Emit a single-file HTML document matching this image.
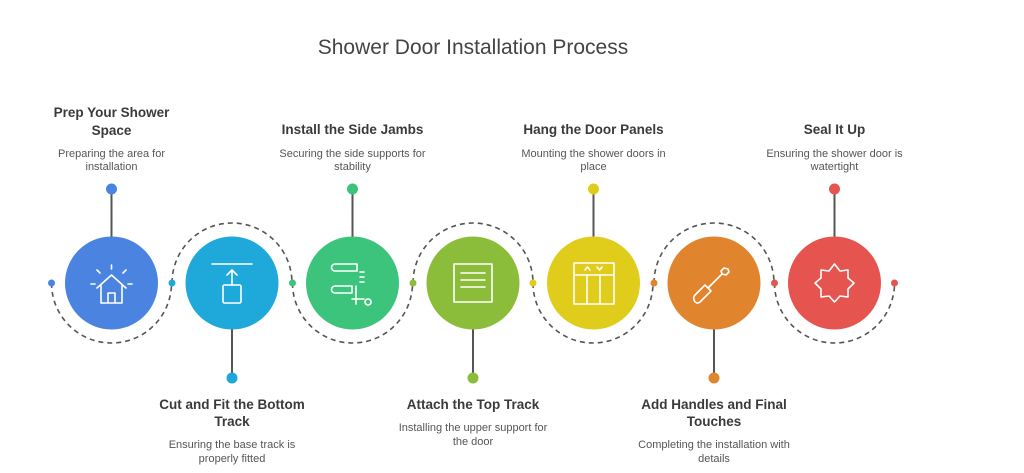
<!DOCTYPE html>
<html><head><meta charset="utf-8"><style>
html,body{margin:0;padding:0;background:#fff;}
svg{display:block;font-family:"Liberation Sans",sans-serif;}
.t{font-weight:bold;font-size:13.5px;fill:#3a3a3a;text-anchor:middle;}
.d{font-size:11px;fill:#555;text-anchor:middle;}
.ic{fill:none;stroke:#fff;stroke-width:1.6;stroke-linecap:round;stroke-linejoin:round;}
</style></head><body>
<svg width="1024" height="473" viewBox="0 0 1024 473">
<text x="473" y="54" font-size="21" fill="#444" text-anchor="middle">Shower Door Installation Process</text>

<g fill="none" stroke="#555" stroke-width="1.6" stroke-dasharray="5,4">
<path d="M51.5,283 A60,60 0 0 0 171.5,283"/>
<path d="M172,283 A60,60 0 0 1 292,283"/>
<path d="M292.5,283 A60,60 0 0 0 412.5,283"/>
<path d="M413,283 A60,60 0 0 1 533,283"/>
<path d="M533,283 A60,60 0 0 0 653,283"/>
<path d="M654,283 A60,60 0 0 1 774,283"/>
<path d="M774.5,283 A60,60 0 0 0 894.5,283"/>
</g>

<g stroke="#555" stroke-width="2">
<line x1="111.5" y1="189" x2="111.5" y2="240"/>
<line x1="232" y1="326" x2="232" y2="378"/>
<line x1="352.5" y1="189" x2="352.5" y2="240"/>
<line x1="473" y1="326" x2="473" y2="378"/>
<line x1="593.5" y1="189" x2="593.5" y2="240"/>
<line x1="714" y1="326" x2="714" y2="378"/>
<line x1="834.5" y1="189" x2="834.5" y2="240"/>
</g>

<circle cx="51.5" cy="283" r="3.5" fill="#4a84e0"/>
<circle cx="172" cy="283" r="3.5" fill="#1fa8da"/>
<circle cx="292.5" cy="283" r="3.5" fill="#3cc47c"/>
<circle cx="413" cy="283" r="3.5" fill="#8cbd3a"/>
<circle cx="533" cy="283" r="3.5" fill="#e0cc1a"/>
<circle cx="654" cy="283" r="3.5" fill="#e0842e"/>
<circle cx="774.5" cy="283" r="3.5" fill="#e5544f"/>
<circle cx="894.5" cy="283" r="3.5" fill="#e5544f"/>

<circle cx="111.5" cy="189" r="5.5" fill="#4a84e0"/>
<circle cx="232" cy="378" r="5.5" fill="#1fa8da"/>
<circle cx="352.5" cy="189" r="5.5" fill="#3cc47c"/>
<circle cx="473" cy="378" r="5.5" fill="#8cbd3a"/>
<circle cx="593.5" cy="189" r="5.5" fill="#e0cc1a"/>
<circle cx="714" cy="378" r="5.5" fill="#e0842e"/>
<circle cx="834.5" cy="189" r="5.5" fill="#e5544f"/>

<circle cx="111.5" cy="283" r="46.5" fill="#4a84e0"/>
<circle cx="232" cy="283" r="46.5" fill="#1fa8da"/>
<circle cx="352.5" cy="283" r="46.5" fill="#3cc47c"/>
<circle cx="473" cy="283" r="46.5" fill="#8cbd3a"/>
<circle cx="593.5" cy="283" r="46.5" fill="#e0cc1a"/>
<circle cx="714" cy="283" r="46.5" fill="#e0842e"/>
<circle cx="834.5" cy="283" r="46.5" fill="#e5544f"/>

<g class="ic">
<path d="M97,288 L111.5,275 L126,288 M101,285 V303 H122 V285 M108,303 V293 H115 V303"/>
<path d="M111.5,265 V269 M97,270 L100,273 M126,270 L123,273 M91,284 H95 M128,284 H132"/>
<path d="M212,264 H252 M232,270 V285 M227,275 L232,270 L237,275"/>
<rect x="223" y="285" width="18" height="18" rx="1.5"/>
<path d="M335,264 H357 V271 H335 A3.5,3.5 0 0 1 335,264 M335,286 H352 V293 H335 A3.5,3.5 0 0 1 335,286 M360,272 H364 M360,277 H364 M360,282 H364 M356,286 V304 M352,299 H364 M368,299 A3,3 0 1 0 368.1,299"/>
<rect x="454" y="264" width="38" height="38"/>
<path d="M461,273 H485 M461,280 H485 M461,287 H485"/>
<rect x="574" y="263" width="40" height="41"/>
<path d="M574,275 H614 M587,275 V304 M600,275 V304 M585,270 L587.5,267 L590,270 M597,267 L599.5,270 L602,267"/>
<path d="M697,303 A5,5 0 0 1 695,295 L705,285 L711,291 L701,301 A5,5 0 0 1 697,303 Z M708,288 L722,274 M721,271 L724,268 L728,269 L729,272 L726,275 L722,274 Z"/>
<path d="M834.5,264 L840,271 L848,270 L848,278 L854,283 L848,289 L848,297 L840,296 L834.5,302 L829,296 L821,297 L821,289 L815,283 L821,278 L821,270 L829,271 Z"/>
</g>

<text class="t" x="111.5" y="117">Prep Your Shower</text>
<text class="t" x="111.5" y="135">Space</text>
<text class="d" x="111.5" y="157">Preparing the area for</text>
<text class="d" x="111.5" y="170">installation</text>

<text class="t" x="352.5" y="134">Install the Side Jambs</text>
<text class="d" x="352.5" y="157">Securing the side supports for</text>
<text class="d" x="352.5" y="170">stability</text>

<text class="t" x="593.5" y="134">Hang the Door Panels</text>
<text class="d" x="593.5" y="157">Mounting the shower doors in</text>
<text class="d" x="593.5" y="170">place</text>

<text class="t" x="834.5" y="134">Seal It Up</text>
<text class="d" x="834.5" y="157">Ensuring the shower door is</text>
<text class="d" x="834.5" y="170">watertight</text>

<text class="t" x="232" y="409">Cut and Fit the Bottom</text>
<text class="t" x="232" y="426">Track</text>
<text class="d" x="232" y="448">Ensuring the base track is</text>
<text class="d" x="232" y="462">properly fitted</text>

<text class="t" x="473" y="409">Attach the Top Track</text>
<text class="d" x="473" y="431">Installing the upper support for</text>
<text class="d" x="473" y="445">the door</text>

<text class="t" x="714" y="409">Add Handles and Final</text>
<text class="t" x="714" y="426">Touches</text>
<text class="d" x="714" y="448">Completing the installation with</text>
<text class="d" x="714" y="462">details</text>
</svg>
</body></html>
